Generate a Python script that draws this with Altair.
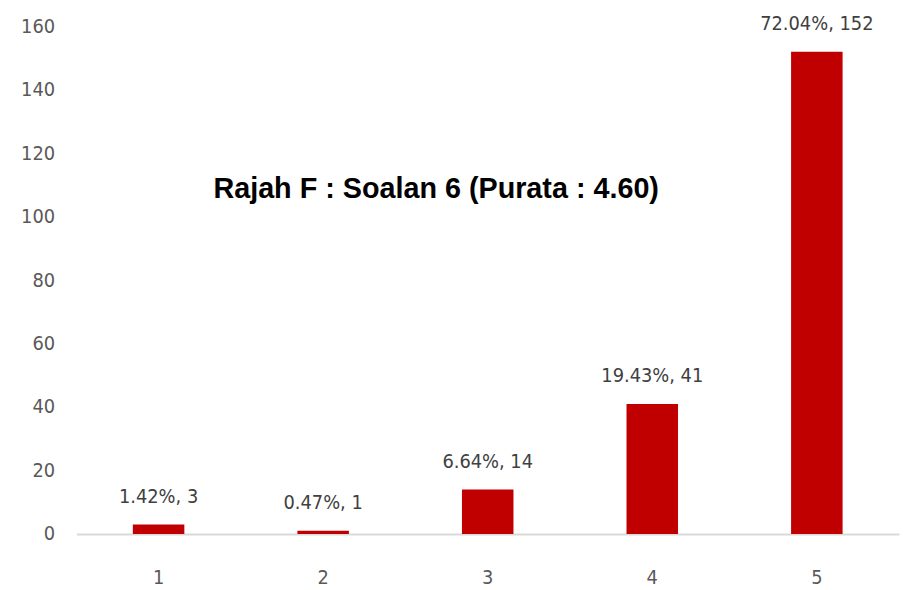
import altair as alt
import pandas as pd

categories = ["1", "2", "3", "4", "5"]
counts = [3, 1, 14, 41, 152]
percents = ["1.42%", "0.47%", "6.64%", "19.43%", "72.04%"]
title_text = "Rajah F : Soalan 6 (Purata : 4.60)"

df = pd.DataFrame({
    "cat": categories,
    "count": counts,
    "label": [f"{p}, {c}" for p, c in zip(percents, counts)],
})

FONT = "DejaVu Sans Condensed"

x = alt.X("cat:N", sort=categories,
          scale=alt.Scale(paddingInner=0.687, paddingOuter=0.343),
          axis=alt.Axis(title=None, labelAngle=0, ticks=False, domain=True,
                        domainColor="#d9d9d9", domainWidth=2, labelPadding=34,
                        labelFont=FONT, labelFontSize=20, labelColor="#595959"))
y = alt.Y("count:Q", scale=alt.Scale(domain=[0, 160], nice=False),
          axis=alt.Axis(title=None, values=list(range(0, 161, 20)), grid=False,
                        ticks=False, domain=False, labelPadding=22,
                        labelFont=FONT, labelFontSize=20, labelColor="#595959"))

bars = alt.Chart(df).mark_bar(color="#C00000").encode(x=x, y=y)

labels = alt.Chart(df).mark_text(font=FONT, fontSize=20, color="#404040",
                                 baseline="alphabetic", dy=-22).encode(
    x=alt.X("cat:N", sort=categories), y="count:Q", text="label:N")

title = alt.Chart(pd.DataFrame({"t": [title_text]})).mark_text(
    font="Liberation Sans", fontSize=29, fontWeight="bold", color="#000000",
    align="center", baseline="middle").encode(
    x=alt.value(363), y=alt.value(164), text="t:N")

chart = alt.layer(bars, labels, title).properties(
    width=830, height=512,
    background="white",
    autosize=alt.AutoSizeParams(type="none"),
    padding={"left": 69, "top": 16, "right": 3, "bottom": 58},
).configure_view(stroke=None)

chart.save("out.html", embed_options={"renderer": "svg", "actions": False})
